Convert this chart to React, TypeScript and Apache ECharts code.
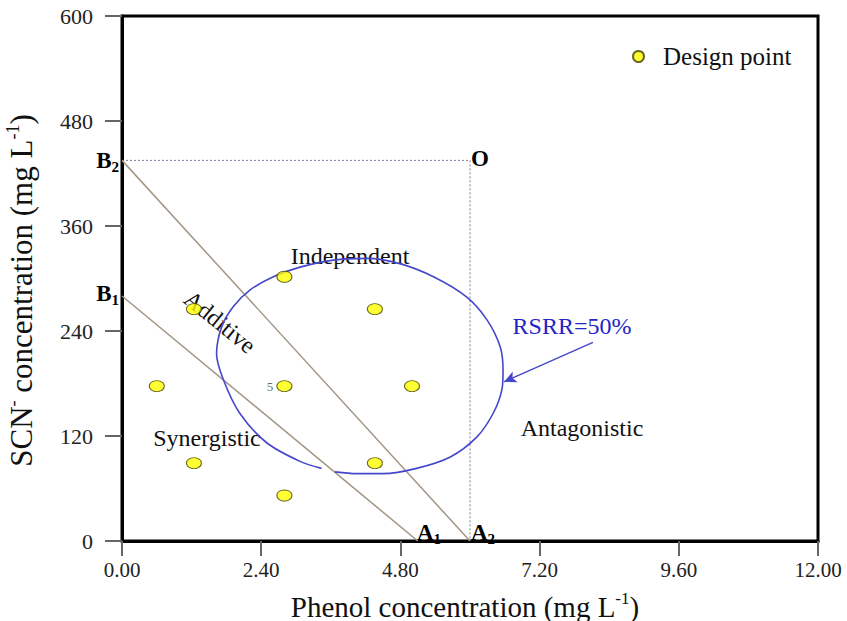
import React, { useEffect, useRef } from "react";
import * as echarts from "echarts";

// Design points (Phenol mg/L, SCN- mg/L)
const designPoints: number[][] = [
  [2.8, 302], [1.24, 265], [4.36, 265], [0.6, 177], [2.8, 177],
  [5.0, 177], [1.24, 89], [4.36, 89], [2.8, 52],
];
const centerIndex = 4;

// RSRR = 50% contour (open curve)
const rsrrContour: number[][] = [
  [3.44, 83], [3.07, 91], [2.5, 112], [2.03, 146], [1.75, 184], [1.63, 214],
  [1.72, 245], [1.92, 268], [2.21, 287], [2.61, 302], [3.07, 313], [3.64, 321],
  [4.22, 323], [4.79, 317], [5.37, 302], [5.94, 279], [6.29, 253], [6.52, 222],
  [6.57, 195], [6.55, 173], [6.4, 146], [6.12, 119], [5.66, 96], [5.08, 83],
  [4.5, 77], [4.05, 77], [3.67, 79],
];

// Isobole lines
const lineB2A2: number[][] = [[0, 435], [6, 0]];
const lineB1A1: number[][] = [[0, 280], [5.1, 0]];
const lineO: number[][] = [[0, 435], [6, 435], [6, 0]];
const arrowLine = [[8.12, 227], [6.59, 182]];

const xTicks = { min: 0, max: 12, interval: 2.4 };
const yTicks = { min: 0, max: 600, interval: 120 };

const FONT = "'Times New Roman', 'Liberation Serif', serif";

export default function App() {
  const ref = useRef<HTMLDivElement>(null);
  useEffect(() => {
    if (!ref.current) return;
    const chart = echarts.init(ref.current, undefined, { renderer: "svg" });
    const subRich = {
      b: { fontFamily: FONT, fontSize: 23, fontWeight: "bold", color: "#111", lineHeight: 28 },
      s: { fontFamily: FONT, fontSize: 15, fontWeight: "bold", color: "#111", verticalAlign: "bottom", lineHeight: 15 },
    };
    const annot = (text: string, x: number, y: number, extra: any = {}) => ({
      type: "text",
      x,
      y,
      ...extra,
      style: {
        text,
        fontFamily: FONT,
        fontSize: 24,
        fill: "#111",
        align: "center",
        verticalAlign: "middle",
        ...(extra.style || {}),
      },
    });
    const nameStyle = (size: number, padding: number[]) => ({
      fontFamily: FONT,
      fontSize: size,
      color: "#111",
      lineHeight: size + 4,
      padding,
      rich: { sup: { fontFamily: FONT, fontSize: Math.round(size * 0.58), color: "#111", verticalAlign: "top", lineHeight: Math.round(size * 0.58) } },
    });
    chart.setOption({
      animation: false,
      backgroundColor: "#fff",
      grid: {
        left: 122, top: 16, right: 29, bottom: 80,
        containLabel: false, outerBoundsMode: "none",
        show: true, borderColor: "#000", borderWidth: 3,
      },
      legend: {
        data: ["Design point"],
        left: 627,
        top: 39,
        itemWidth: 15,
        itemHeight: 11,
        symbolKeepAspect: false,
        textStyle: { fontFamily: FONT, fontSize: 25, color: "#111", padding: [0, 0, 0, 12] },
      },
      xAxis: {
        type: "value",
        ...xTicks,
        name: "Phenol concentration (mg L{sup|-1})",
        nameLocation: "middle",
        nameGap: 49,
        nameTextStyle: nameStyle(29, [0, 10, 0, 0]),
        axisLine: { show: true, lineStyle: { color: "#000", width: 3 } },
        axisTick: { show: true, length: 15, lineStyle: { color: "#666", width: 2 } },
        axisLabel: {
          margin: 18,
          fontFamily: FONT,
          fontSize: 21,
          color: "#222",
          formatter: (v: number) => v.toFixed(2),
        },
        splitLine: { show: false },
      },
      yAxis: {
        type: "value",
        ...yTicks,
        name: "SCN{sup|-} concentration (mg L{sup|-1})",
        nameLocation: "middle",
        nameGap: 83,
        nameTextStyle: nameStyle(31, [0, 24, 0, 0]),
        axisLine: { show: true, lineStyle: { color: "#000", width: 3 } },
        axisTick: { show: true, length: 17, lineStyle: { color: "#666", width: 2 } },
        axisLabel: { margin: 29, fontFamily: FONT, fontSize: 22, color: "#222" },
        splitLine: { show: false },
      },
      series: [
        {
          name: "O-lines",
          type: "line",
          data: lineO,
          symbol: "none",
          lineStyle: { color: "#7a7a99", width: 1, type: [2, 2] },
          z: 2,
        },
        {
          name: "B2A2",
          type: "line",
          data: lineB2A2,
          symbol: "none",
          lineStyle: { color: "#a39585", width: 1.5 },
          z: 2,
        },
        {
          name: "B1A1",
          type: "line",
          data: lineB1A1,
          symbol: "none",
          lineStyle: { color: "#a39585", width: 1.5 },
          z: 2,
        },
        {
          name: "RSRR",
          type: "line",
          data: rsrrContour,
          symbol: "none",
          smooth: 0.3,
          lineStyle: { color: "#4646cc", width: 1.6 },
          z: 3,
          markLine: {
            silent: true,
            symbol: ["none", "arrow"],
            symbolSize: [9, 12],
            label: { show: false },
            lineStyle: { color: "#4646cc", width: 1.4, type: "solid" },
            data: [[{ coord: arrowLine[0] }, { coord: arrowLine[1] }]],
          },
        },
        {
          name: "Design point",
          type: "scatter",
          symbol: "circle",
          symbolSize: [15, 11],
          symbolKeepAspect: false,
          itemStyle: { color: "#ffff00", borderColor: "#444400", borderWidth: 1 },
          data: designPoints.map((p, i) =>
            i === centerIndex
              ? {
                  value: p,
                  label: {
                    show: true,
                    formatter: "5",
                    position: "left",
                    distance: 3,
                    fontFamily: FONT,
                    fontSize: 13,
                    color: "#444",
                  },
                }
              : p
          ),
          z: 5,
        },
      ],
      graphic: [
        { type: "text", x: 119, y: 160, style: { text: "{b|B}{s|2}", rich: subRich, align: "right", verticalAlign: "middle" } },
        { type: "text", x: 119, y: 293, style: { text: "{b|B}{s|1}", rich: subRich, align: "right", verticalAlign: "middle" } },
        { type: "text", x: 471, y: 158, style: { text: "{b|O}", rich: subRich, align: "left", verticalAlign: "middle" } },
        { type: "text", x: 417, y: 532, style: { text: "{b|A}{s|1}", rich: subRich, align: "left", verticalAlign: "middle" } },
        { type: "text", x: 471, y: 532, style: { text: "{b|A}{s|2}", rich: subRich, align: "left", verticalAlign: "middle" } },
        annot("Independent", 350, 256),
        annot("Synergistic", 207, 438),
        annot("Antagonistic", 582, 428),
        annot("Additive", 220, 322, { rotation: -0.68 }),
        annot("RSRR=50%", 572, 326, { style: { fill: "#2424c8" } }),
      ],
    });
    return () => chart.dispose();
  }, []);
  return (
    <div
      ref={ref}
      style={{ position: "fixed", left: 0, top: 0, width: 847, height: 621, background: "#fff" }}
    />
  );
}
